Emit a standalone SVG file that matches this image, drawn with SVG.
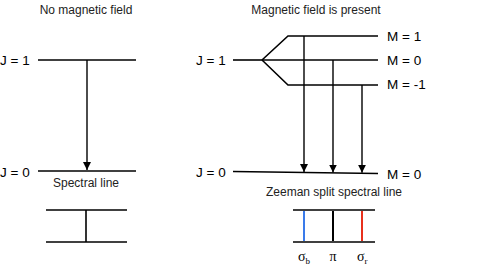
<svg xmlns="http://www.w3.org/2000/svg" width="489" height="274" viewBox="0 0 489 274">
<defs>
<marker id="ah" viewBox="0 0 8 8" refX="8" refY="4" markerWidth="8" markerHeight="8" markerUnits="userSpaceOnUse" orient="auto">
<path d="M0,0 L8,4 L0,8 z" fill="#000"/>
</marker>
<style>
.t{font-family:"Liberation Sans",Arial,sans-serif;font-size:12px;fill:#222}
.l{font-family:"Liberation Sans",Arial,sans-serif;font-size:13.5px;fill:#000}
.g{font-family:"Liberation Serif","Times New Roman",serif;font-size:14px;fill:#000}
.s{font-family:"Liberation Serif","Times New Roman",serif;font-size:9px;fill:#000}
.ln{stroke:#000;stroke-width:1.6;fill:none}
.ar{stroke:#000;stroke-width:1.4;fill:none;marker-end:url(#ah)}
</style>
</defs>
<rect width="489" height="274" fill="#fff"/>
<g id="titles">
<text class="t" x="86" y="14" text-anchor="middle">No magnetic field</text>
<text class="t" x="316" y="14" text-anchor="middle">Magnetic field is present</text>
<text class="t" x="86" y="187" text-anchor="middle">Spectral line</text>
<text class="t" x="334" y="196" text-anchor="middle">Zeeman split spectral line</text>
</g>
<g id="left-J1">
<text class="l" x="0" y="64.5">J = 1</text>
<line class="ln" x1="38" y1="60" x2="136" y2="60"/>
</g>
<g id="left-J0">
<text class="l" x="0" y="176.5">J = 0</text>
<line class="ln" x1="38" y1="171" x2="136" y2="171"/>
</g>
<g id="right-J1">
<text class="l" x="196" y="64.5">J = 1</text>
<line class="ln" x1="233" y1="60" x2="262" y2="60"/>
<polyline class="ln" points="262,60 288,36 378,36"/>
<line class="ln" x1="262" y1="60" x2="378" y2="60"/>
<polyline class="ln" points="262,60 288,85 378,85"/>
</g>
<g id="M-labels">
<text class="l" x="387" y="40.7">M = 1</text>
<text class="l" x="387" y="64.5">M = 0</text>
<text class="l" x="387" y="89">M = -1</text>
</g>
<g id="right-J0">
<text class="l" x="196" y="177">J = 0</text>
<line class="ln" x1="233" y1="171.5" x2="378" y2="173.5"/>
<text class="l" x="387" y="179">M = 0</text>
</g>
<g id="connectors">
<line class="ar" x1="87" y1="60" x2="87" y2="170"/>
<line class="ar" x1="304" y1="36" x2="304" y2="172"/>
<line class="ar" x1="333" y1="60" x2="333" y2="172.5"/>
<line class="ar" x1="362" y1="85" x2="362" y2="172.8"/>
</g>
<g id="spectral-line">
<line class="ln" x1="46" y1="210" x2="127" y2="210"/>
<line class="ln" x1="46" y1="242" x2="127" y2="242"/>
<line class="ln" x1="86" y1="210" x2="86" y2="242"/>
</g>
<g id="zeeman-line">
<line class="ln" x1="293" y1="210" x2="375" y2="210"/>
<line class="ln" x1="293" y1="242" x2="375" y2="242"/>
<line x1="304" y1="211" x2="304" y2="241" stroke="#3a7bea" stroke-width="2"/>
<line x1="333" y1="211" x2="333" y2="241" stroke="#000" stroke-width="2"/>
<line x1="362" y1="211" x2="362" y2="241" stroke="#e8301c" stroke-width="2"/>
<text class="g" x="298" y="261">σ<tspan class="s" dy="3">b</tspan></text>
<text class="g" x="333" y="261" text-anchor="middle">π</text>
<text class="g" x="357" y="261">σ<tspan class="s" dy="3">r</tspan></text>
</g>
</svg>
